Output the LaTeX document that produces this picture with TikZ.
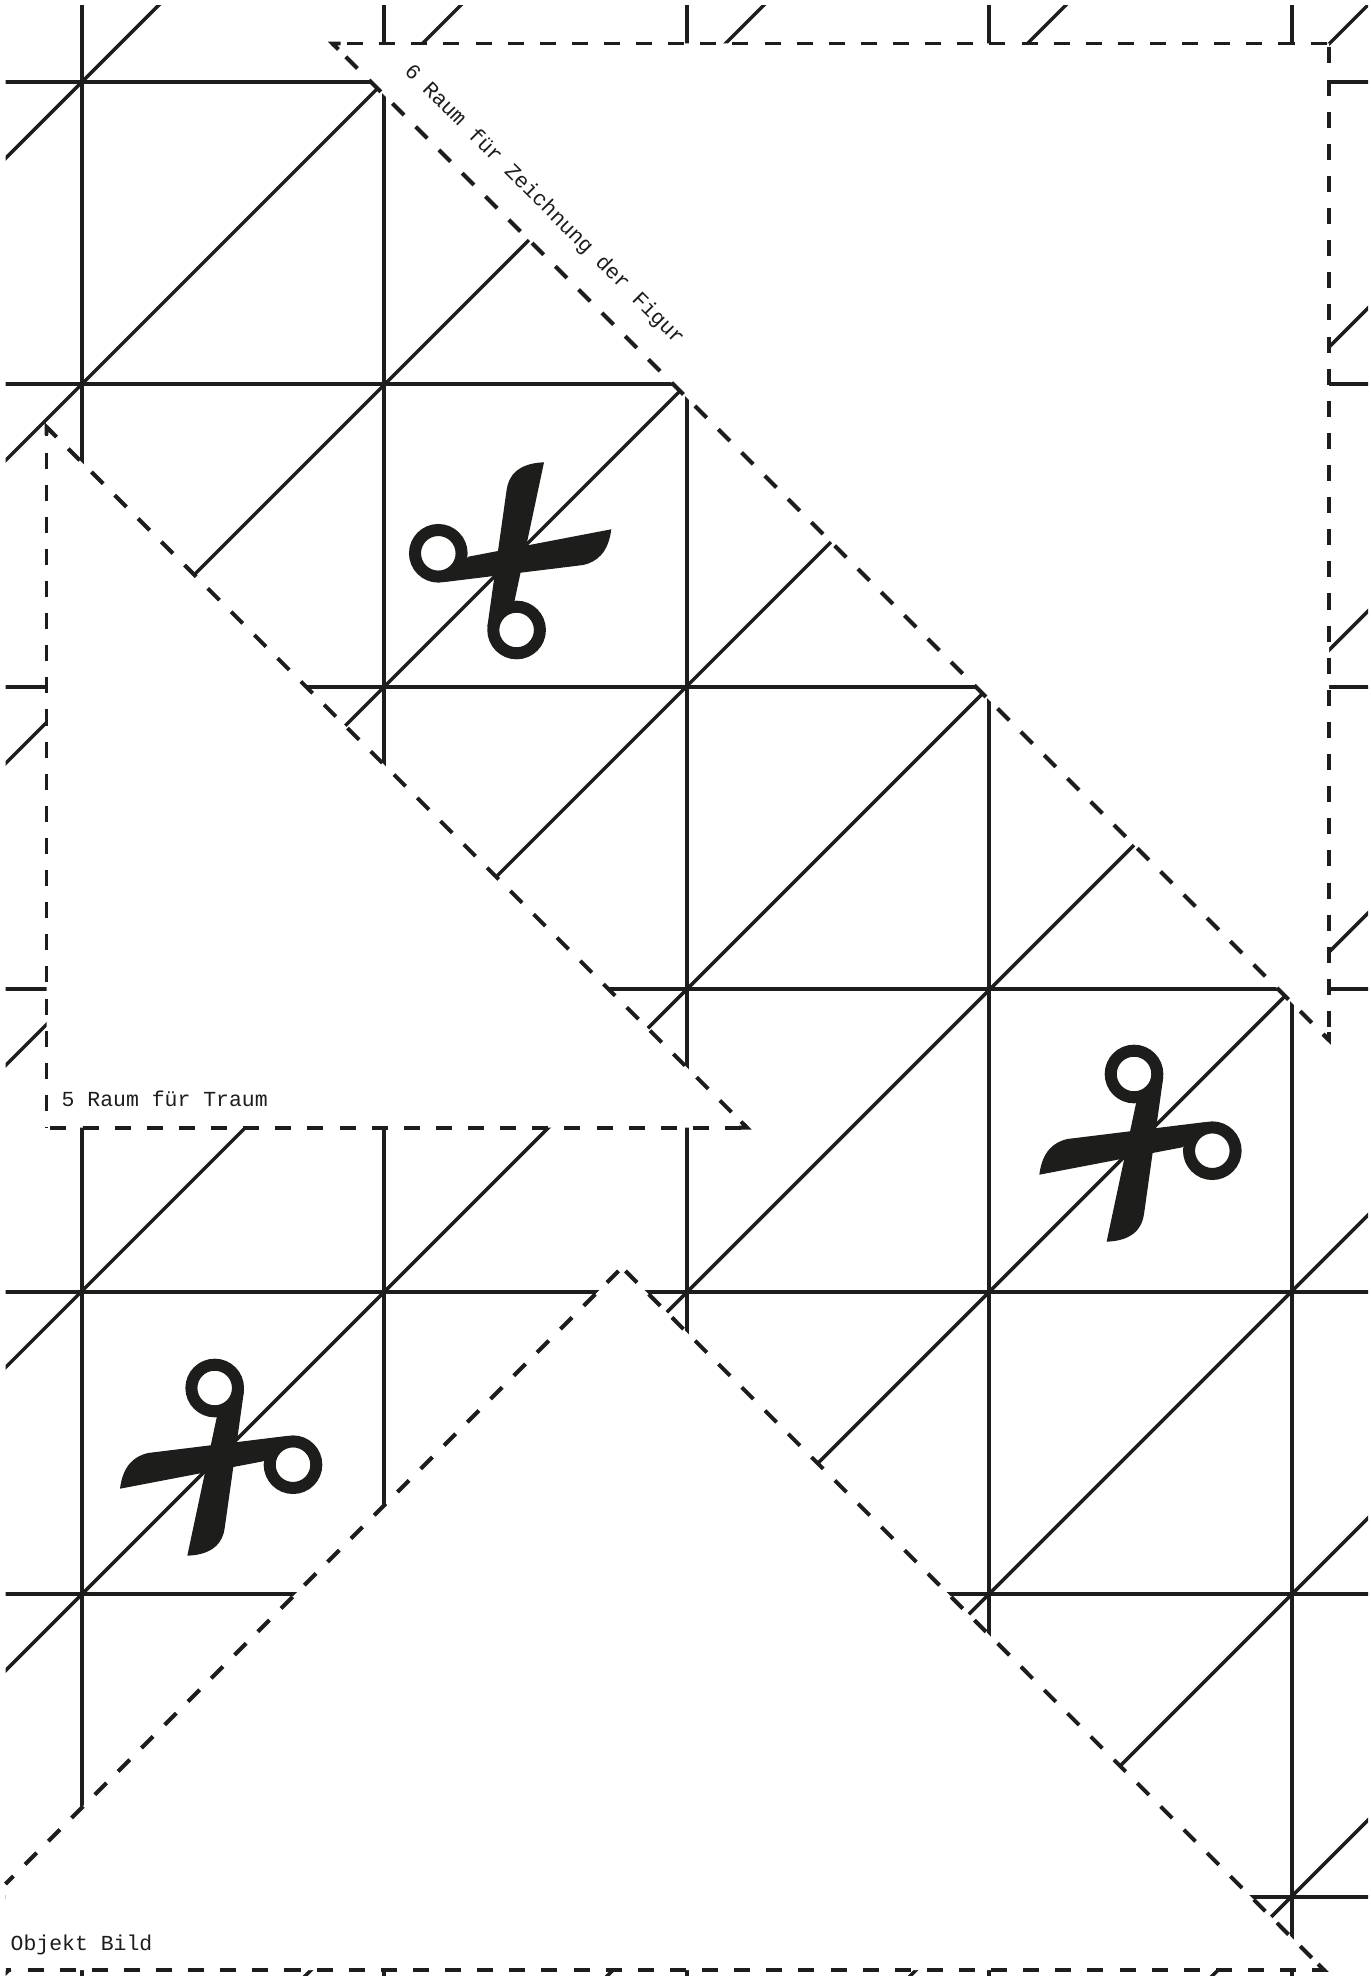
\documentclass[tikz,border=0pt]{standalone}
\usepackage{fontspec}
\newfontfamily\labelfont{Liberation Mono}
\usetikzlibrary{calc, positioning}
\definecolor{inkblack}{HTML}{1D1D1B}

\tikzset{
    gridline/.style={draw=inkblack, line width=1pt},
    cutline/.style={draw=inkblack, line width=1.12pt, dash pattern=on .16cm off .161cm, dash phase=#1},
    cutdiag/.style={draw=inkblack, line width=1.12pt, dash pattern=on .165cm off .164cm, dash phase=#1},
    cornerline/.style={draw=inkblack, line width=1.12pt, miter limit=10},
    masked/.style={fill=white, draw=none},
    caption/.style={inner sep=0pt, text=inkblack, font=\labelfont\fontsize{6.1pt}{7pt}\selectfont},
    scissors/.pic={
        % blades
        \fill[inkblack] (33.7,-154.7) .. controls (6.3,-153.7) and (-2,-140) .. (-3.7,-127) -- (-23,10) -- (4,-15) -- cycle;
        \fill[inkblack] (101,-87.7) .. controls (98,-63.7) and (86,-55) .. (73,-52) -- (-65.3,-35) -- (-42,-60.3) -- cycle;
        % handles
        \draw[inkblack, line width=.12cm] (-72,-63.7) circle [radius=23.3];
        \draw[inkblack, line width=.12cm] (6.3,13) circle [radius=23.3];
    }
}

\begin{document}
\begin{tikzpicture}[x=0.01cm, y=-0.01cm]
    \useasboundingbox (0,0) rectangle (1371,1977);

    \begin{scope}
        \clip (5.5,5.5) rectangle (1368,1975);

        % Grid
        \foreach \gx in {82,384,687,989,1292} \draw[gridline] (\gx,0) -- (\gx,1977);
        \foreach \gy in {82,384,687,989,1292,1594,1897} \draw[gridline] (0,\gy) -- (1371,\gy);
        \foreach \gs in {164,466,769,1071,1373,1676,1979,2281,2583,2886,3188} \draw[gridline] (\gs,0) -- ({\gs-1977},1977);

        % Blank spaces
        \fill[masked] (332.5,43.5) -- (1329,43.5) -- (1329,1040) -- cycle;
        \fill[masked] (46.5,427) -- (747,1127.7) -- (46.5,1127.7) -- cycle;
        \fill[masked] (622,1267.5) -- (1324,1970) -- (-50,1970) -- (-50,1939) -- cycle;
    \end{scope}

    % Space 6
    \draw[cutline=5] (332.5,43.5) -- (1329,43.5);
    \draw[cutline=8] (1329,43.5) -- (1329,1040);
    \draw[cutdiag=4] (332.5,43.5) -- (1329,1040);

    % Space 5
    \draw[cutline=11] (46.5,427) -- (46.5,1127.7);
    \draw[cutline=8] (46.5,1127.7) -- (747,1127.7);
    \draw[cutdiag=10] (46.5,427) -- (747,1127.7);

    % Object
    \draw[cutdiag=8] (622,1267.5) -- (5.5,1884);
    \draw[cutdiag=8] (622,1267.5) -- (1324,1970);
    \draw[cutline=12] (5.5,1970) -- (1324,1970);

    % Corners
    \draw[cornerline] (340.5,43.5) -- (332.5,43.5) -- (338.5,49.5);
    \draw[cornerline] (1329,1032) -- (1329,1040) -- (1323,1034);
    \draw[cornerline] (46.5,435) -- (46.5,427) -- (52.5,433);
    \draw[cornerline] (739,1127.7) -- (747,1127.7) -- (741,1121.7);
    \draw[cornerline] (1316,1970) -- (1324,1970) -- (1318,1964);

    % Scissors
    \pic at (510.3,617) {scissors};
    \pic[rotate=180] at (1140.3,1087) {scissors};
    \pic[rotate=180] at (221,1401) {scissors};

    % Labels
    \node[caption, anchor=base west, rotate=-45] (figurelabel) at (403,72) {6 Raum für Zeichnung der Figur};
    \node[caption, anchor=base west] (dreamlabel) at (61,1106) {5 Raum für Traum};
    \node[caption, anchor=base west] (objectlabel) at (10,1950) {Objekt Bild};
\end{tikzpicture}
\end{document}
